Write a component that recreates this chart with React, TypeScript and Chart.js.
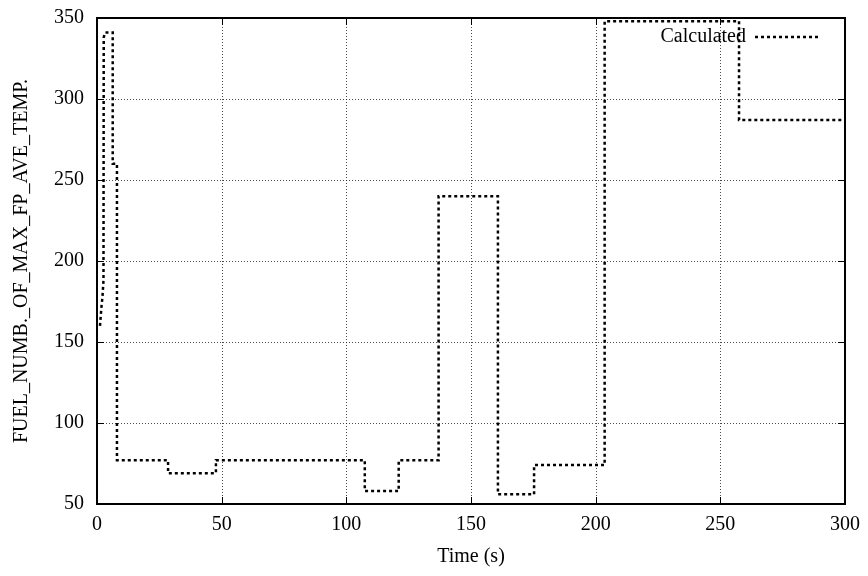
import React, { useEffect, useRef } from "react";
import { Chart, registerables } from "chart.js";

Chart.register(...registerables);

// Data (time in s, value)
const times = [1.2, 1.8, 2.2, 2.6, 2.7, 3.2, 6.3, 6.3, 8, 8, 28.5, 28.5, 47.7, 47.7, 107.4, 107.4, 121, 121, 137, 137, 160.8, 160.8, 175.3, 175.3, 203.6, 203.6, 257.5, 257.5, 300];
const values = [160, 172, 178, 188, 338, 341, 341, 260, 260, 77, 77, 69, 69, 77, 77, 58, 58, 77, 77, 240, 240, 56, 56, 74, 74, 348, 348, 287, 287];

const xTicks = [0, 50, 100, 150, 200, 250, 300];
const yTicks = [50, 100, 150, 200, 250, 300, 350];

const seriesLabel = "Calculated";
const xTitle = "Time (s)";
const yTitle = "FUEL_NUMB._OF_MAX_FP_AVE_TEMP.";

const FONT = "'Liberation Serif', 'DejaVu Serif', 'Times New Roman', serif";

const framePlugin = {
  id: "frame",
  beforeDatasetsDraw(chart: any) {
    const { ctx, chartArea: a, scales } = chart;
    ctx.save();
    ctx.strokeStyle = "rgba(0,0,0,0.7)";
    ctx.lineWidth = 1;
    ctx.setLineDash([1, 2]);
    for (const v of xTicks) {
      const x = Math.round(scales.x.getPixelForValue(v)) + 0.5;
      ctx.beginPath();
      ctx.moveTo(x, a.top);
      ctx.lineTo(x, a.bottom);
      ctx.stroke();
    }
    for (const v of yTicks) {
      const y = Math.round(scales.y.getPixelForValue(v)) + 0.5;
      ctx.beginPath();
      ctx.moveTo(a.left, y);
      ctx.lineTo(a.right, y);
      ctx.stroke();
    }
    ctx.restore();
  },
  afterDatasetsDraw(chart: any) {
    const { ctx, chartArea: a, scales } = chart;
    ctx.save();
    ctx.setLineDash([]);
    ctx.strokeStyle = "#000";
    ctx.lineWidth = 1;
    const tl = 7;
    for (const v of xTicks) {
      const x = Math.round(scales.x.getPixelForValue(v)) + 0.5;
      ctx.beginPath();
      ctx.moveTo(x, a.bottom);
      ctx.lineTo(x, a.bottom - tl);
      ctx.moveTo(x, a.top);
      ctx.lineTo(x, a.top + tl);
      ctx.stroke();
    }
    for (const v of yTicks) {
      const y = Math.round(scales.y.getPixelForValue(v)) + 0.5;
      ctx.beginPath();
      ctx.moveTo(a.left, y);
      ctx.lineTo(a.left + tl, y);
      ctx.moveTo(a.right, y);
      ctx.lineTo(a.right - tl, y);
      ctx.stroke();
    }
    ctx.lineWidth = 2;
    ctx.strokeRect(a.left, a.top, a.right - a.left, a.bottom - a.top);

    // legend
    const ds = chart.data.datasets[0];
    const ly = a.top + 19;
    ctx.fillStyle = "#000";
    ctx.font = `20px ${FONT}`;
    ctx.textAlign = "right";
    ctx.textBaseline = "middle";
    ctx.fillText(ds.label, a.right - 99, ly);
    ctx.strokeStyle = ds.borderColor;
    ctx.lineWidth = ds.borderWidth;
    ctx.setLineDash(ds.borderDash);
    ctx.beginPath();
    ctx.moveTo(a.right - 90, ly);
    ctx.lineTo(a.right - 27, ly);
    ctx.stroke();
    ctx.restore();
  },
};

export default function App() {
  const ref = useRef<HTMLCanvasElement>(null);
  useEffect(() => {
    if (!ref.current) return;
    const chart = new Chart(ref.current, {
      type: "line",
      data: {
        datasets: [
          {
            label: seriesLabel,
            data: times.map((t, i) => ({ x: t, y: values[i] })),
            borderColor: "#000",
            borderWidth: 2.5,
            borderDash: [3, 3],
            pointRadius: 0,
            fill: false,
            tension: 0,
          },
        ],
      },
      options: {
        animation: false,
        responsive: false,
        layout: { padding: { top: 18, right: 23, left: 0, bottom: 0 } },
        plugins: { legend: { display: false }, tooltip: { enabled: false } },
        scales: {
          x: {
            type: "linear",
            min: 0,
            max: 300,
            afterFit: (s: any) => { s.height = 72; s.paddingLeft = 0; s.paddingRight = 0; },
            afterBuildTicks: (s: any) => { s.ticks = xTicks.map((v) => ({ value: v })); },
            ticks: { font: { family: FONT, size: 20 }, color: "#000", padding: 9, maxRotation: 0 },
            grid: { display: false, drawTicks: false },
            border: { display: false },
            title: { display: true, text: xTitle, font: { family: FONT, size: 20 }, color: "#000", padding: { top: 0, bottom: 7 } },
          },
          y: {
            type: "linear",
            min: 50,
            max: 350,
            afterFit: (s: any) => { s.width = 97; s.paddingTop = 0; s.paddingBottom = 0; },
            afterBuildTicks: (s: any) => { s.ticks = yTicks.map((v) => ({ value: v })); },
            ticks: { font: { family: FONT, size: 20 }, color: "#000", padding: 13 },
            grid: { display: false, drawTicks: false },
            border: { display: false },
            title: { display: true, text: yTitle, font: { family: FONT, size: 20 }, color: "#000", padding: { top: 10, bottom: 0 } },
          },
        },
      },
      plugins: [framePlugin],
    });
    return () => chart.destroy();
  }, []);
  return (
    <div style={{ position: "absolute", left: 0, top: 0, width: 868, height: 576, background: "#fff" }}>
      <canvas ref={ref} width={868} height={576} />
    </div>
  );
}
